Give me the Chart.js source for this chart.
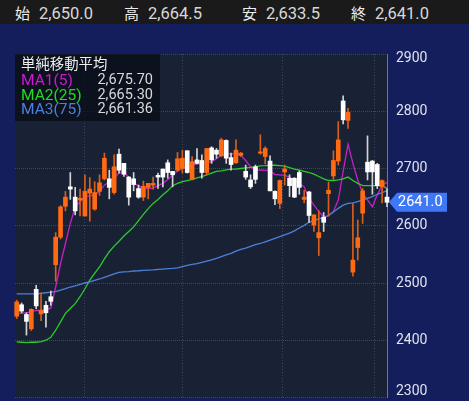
<!DOCTYPE html>
<html lang="ja"><head><meta charset="utf-8">
<style>
html,body{margin:0;padding:0;background:#151e5c;width:469px;height:401px;overflow:hidden;font-family:Roboto,"Noto Sans CJK JP",sans-serif}
#wrap{position:relative;width:469px;height:401px;overflow:hidden}
canvas{position:absolute;left:0;top:0}
#head{position:absolute;left:0;top:0;width:469px;height:24px;background:#1a1a1a;color:#d8d8d8}
#head span{position:absolute;top:4px;font-size:16.5px;line-height:19px;white-space:nowrap}
#head b{position:absolute;top:3px;font-weight:400;font-size:15px;line-height:20px;color:#eee;font-family:"Noto Sans CJK JP",sans-serif}
#box{position:absolute;left:15px;top:54px;width:145px;height:67px;background:rgba(9,13,24,.78);color:#d8d8d8}
#box div{position:absolute;white-space:nowrap;font-size:15.5px;line-height:14px}
#box .t{left:6px;top:-1px;font-size:14.4px;line-height:20px;color:#eee;font-family:"Noto Sans CJK JP",sans-serif}
#box .v{right:7px;left:auto;font-size:14.5px}
</style></head><body>
<div id="wrap">
<canvas id="c" width="469" height="420" style="width:469px;height:420px"></canvas>
<div id="head"></div>
<div id="box"></div>
</div>
<script src="https://cdn.jsdelivr.net/npm/chart.js@4/dist/chart.umd.min.js"></script>
<script>
const opens=[2442,2462,2445,2420,2489,2446,2461,2476,2532,2580,2634,2668,2650,2645,2617,2657,2629,2660,2682,2682,2658,2725,2709,2685,2682,2665,2650,2667,2671,2688,2699,2710,2695,2697,2700,2731,2681,2715,2714,2693,2736,2732,2722,2749,2719,2710,2723,2695,2680,2703,2727,2721,2713,2660,2639,2694,2683,2683,2693,2646,2659,2601,2579,2615,2656,2687,2713,2818,2784,2519,2562,2622,2711,2713,2707,2668,2650];
const highs=[2470,2465,2448,2455,2496,2483,2468,2486,2588,2635,2660,2693,2667,2664,2689,2684,2677,2689,2727,2697,2724,2734,2709,2686,2693,2671,2678,2674,2685,2692,2699,2715,2695,2728,2732,2731,2721,2735,2724,2735,2738,2735,2753,2750,2727,2750,2728,2706,2689,2706,2759,2738,2722,2661,2680,2706,2689,2684,2696,2662,2660,2619,2626,2623,2676,2731,2782,2827,2805,2639,2610,2665,2757,2714,2709,2680,2664.5];
const lows=[2438,2448,2409,2417,2455,2434,2423,2461,2503,2577,2626,2646,2619,2617,2617,2608,2627,2653,2680,2647,2655,2692,2686,2636,2661,2648,2644,2647,2664,2665,2668,2683,2668,2695,2692,2692,2680,2708,2683,2689,2709,2718,2721,2709,2697,2709,2721,2681,2665,2674,2725,2708,2661,2637,2630,2671,2651,2649,2655,2640,2606,2590,2548,2590,2617,2681,2706,2778,2770,2512,2540,2604,2680,2655,2665,2640,2633.5];
const closes=[2467,2451,2433,2454,2460,2452,2448,2468,2580,2633,2650,2664,2626,2648,2660,2664,2658,2675,2718,2667,2703,2697,2690,2650,2672,2650,2669,2674,2674,2685,2685,2693,2689,2717,2718,2693,2712,2709,2693,2735,2715,2725,2750,2718,2707,2732,2727,2685,2668,2681,2729,2735,2661,2647,2679,2699,2670,2650,2667,2650,2618,2619,2588,2606,2662,2714,2750,2785,2798,2540,2579,2661,2694,2694,2670,2679,2641];
const ma1=[2447,2447,2448,2450,2452,2452,2453,2456,2493,2534,2569,2604,2633,2642,2651,2652,2654,2660,2671,2677,2683,2692,2695,2683,2674,2670,2665,2665,2666,2670,2674,2681,2688,2696,2700,2703,2706,2708,2709,2710,2712,2717,2723,2725,2725.5,2725.5,2723,2714,2703,2697,2697.5,2697,2696,2689.5,2689,2688,2685,2679,2674,2668,2648,2636,2625,2615,2617,2625,2645,2695,2742.4,2709,2680,2657,2645,2633,2654,2671,2675.7];
const ma2=[2397,2396.5,2396,2396.5,2396.5,2397.7,2400,2405,2417.5,2432,2447,2455.5,2464,2476,2490,2505,2517,2528,2542,2554.6,2564.5,2573,2582,2590,2598,2609,2620,2630,2639,2646,2654,2661,2670,2674,2677,2679,2681,2683.5,2686,2689,2692,2695,2696,2697.5,2699,2699,2700,2701,2702,2703,2704.5,2705,2705.7,2705.7,2705,2704,2701.6,2699,2697,2695,2693,2690,2686,2682,2679,2679,2680,2682,2685,2679,2674,2670,2670,2670,2670,2670,2665.3];
const ma3=[2481,2481,2481,2481,2481,2482,2483,2484,2485,2487.5,2490,2493,2495,2497.5,2500,2502,2504.5,2507,2510,2513,2516,2518.5,2519.5,2520,2521,2521.4,2522,2522.6,2523,2523.7,2524.3,2525,2525.5,2526.5,2528.4,2530.7,2532.5,2534,2536,2538.3,2540.6,2543,2546,2549,2551.7,2555.8,2558.7,2561,2564,2567,2569,2572,2575,2578,2581,2584,2587,2591,2596,2600.7,2606,2609,2612,2614.7,2618,2624,2630.4,2636,2639,2640,2642,2645,2648,2651,2655,2658,2661.36];
const yTicks=[2300,2400,2500,2600,2700,2800,2900];
const monthStarts=[5,23,45,64];
const headLabels=["始","高","安","終"];
const headValues=["2,650.0","2,664.5","2,633.5","2,641.0"];
const legendTitle="単純移動平均";
const legendNames=["MA1(5)","MA2(25)","MA3(75)"];
const legendValues=["2,675.70","2,665.30","2,661.36"];
const lastPrice="2641.0";

const UP="#ff6a13",DOWN="#ffffff",UPW="#d8601c",DOWNW="#d4d4d4";
const MAC=["#c81fc8","#2ec92e","#4f7fd8"];
const idx=opens.map((_,i)=>i);
const isUp=i=>closes[i]>=opens[i];

const hx=[[15,39],[124,148],[242,266],[351,375]];
const head=document.getElementById('head');
headLabels.forEach((t,i)=>{
  head.insertAdjacentHTML('beforeend',`<b style="left:${hx[i][0]}px">${t}</b><span style="left:${hx[i][1]}px">${headValues[i]}</span>`);
});
const box=document.getElementById('box');
box.insertAdjacentHTML('beforeend',`<div class="t">${legendTitle}</div>`);
legendNames.forEach((t,i)=>{
  const top=19+i*14.5;
  box.insertAdjacentHTML('beforeend',`<div style="left:6px;top:${top}px;color:${["#d018d0","#20dd20","#4f7fd8"][i]}">${t}</div><div class="v" style="top:${top}px">${legendValues[i]}</div>`);
});

const extras={id:'extras',
  beforeDraw(ch){const a=ch.chartArea,g=ch.ctx;g.save();g.fillStyle='#182234';g.fillRect(a.left,a.top,a.right-a.left,a.bottom-a.top);g.restore();},
  afterDraw(ch){
    const g=ch.ctx,y=ch.scales.y;
    g.save();
    g.font='14px Roboto';g.fillStyle='#dfe3ee';g.textAlign='left';g.textBaseline='middle';
    g.fillText('2900',396,58);
    g.fillText('2300',396,391);
    const p=y.getPixelForValue(closes[closes.length-1]);
    g.fillStyle='#3f78f5';
    g.beginPath();g.moveTo(389,p);g.lineTo(397,p-9.5);g.lineTo(447,p-9.5);g.lineTo(447,p+9.5);g.lineTo(397,p+9.5);g.closePath();g.fill();
    g.fillStyle='#fff';g.font='14.5px Roboto';
    g.fillText(lastPrice,398,p+0.5);
    g.restore();
  }};

new Chart(document.getElementById('c'),{
  type:'bar',
  data:{datasets:[
    ...[ma1,ma2,ma3].map((m,k)=>({type:'line',label:legendNames[k],data:idx.map(i=>({x:i,y:m[i]})),borderColor:MAC[k],borderWidth:1.3,pointRadius:0,tension:0,order:8-k,clip:false})),
    {label:'body',data:idx.map(i=>({x:i,y:[opens[i],closes[i]]})),backgroundColor:idx.map(i=>isUp(i)?UP:DOWN),barThickness:4,grouped:false,order:1,clip:false,minBarLength:1},
    {label:'wick',data:idx.map(i=>({x:i,y:[lows[i],highs[i]]})),backgroundColor:idx.map(i=>isUp(i)?UPW:DOWNW),barThickness:1,grouped:false,order:2,clip:false}
  ]},
  options:{
    responsive:false,animation:false,devicePixelRatio:1,
    layout:{padding:{left:15,top:54,bottom:22.5,right:0}},
    plugins:{legend:{display:false},tooltip:{enabled:false}},
    scales:{
      x:{type:'linear',min:-0.35,max:76,offset:false,
        afterBuildTicks(s){s.ticks=monthStarts.map(v=>({value:v}));},
        afterFit(s){s.height=0;},
        ticks:{display:false},
        border:{display:false,dash:[1,2]},
        grid:{color:'#3c4863',drawTicks:false,lineWidth:1}},
      y:{position:'right',min:2300,max:2900,
        afterBuildTicks(s){s.ticks=yTicks.map(v=>({value:v}));},
        afterFit(s){s.width=82;},
        ticks:{autoSkip:false,padding:9,font:{family:'Roboto',size:14},
          color:c=>(c.tick.value===2900||c.tick.value===2300)?'rgba(0,0,0,0)':'#dfe3ee',
          callback:v=>String(v)},
        border:{color:'#80803a',dash:[1,1],width:1},
        grid:{color:'#3c4863',drawTicks:false,lineWidth:1}}
    }
  },
  plugins:[extras]
});
</script>
</body></html>
